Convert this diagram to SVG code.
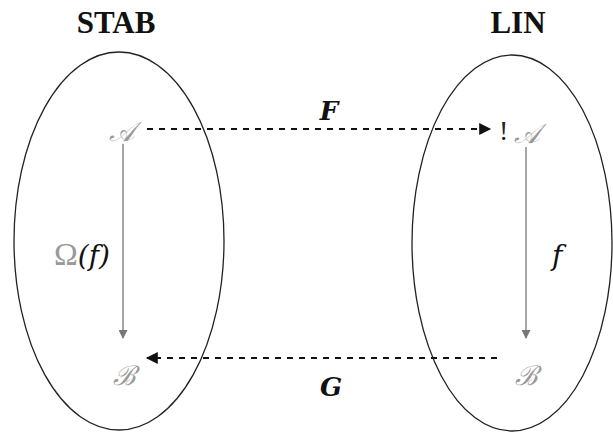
<svg xmlns="http://www.w3.org/2000/svg" width="613" height="432" viewBox="0 0 613 432">
<defs>
<style>
.title{font-family:"Liberation Serif",serif;font-weight:bold;font-size:31px;fill:#111}
.lbl{font-family:"DejaVu Serif",serif;font-weight:bold;font-style:italic;font-size:26px;fill:#111}
.obj{font-family:"DejaVu Serif","Liberation Serif",serif;font-style:italic;font-size:27px;fill:#999}
.math{font-family:"Liberation Serif",serif;font-size:32px}
.it{font-family:"DejaVu Serif",serif;font-style:italic;font-size:28px;fill:#111}
.ell{fill:none;stroke:#222;stroke-width:1.3}
.dash{stroke:#111;stroke-width:2.2;stroke-dasharray:6 6;fill:none}
.vert{stroke:#888;stroke-width:1.5;fill:none}
</style>
<marker id="ah" viewBox="0 0 10 10" refX="9" refY="5" markerWidth="14" markerHeight="12" markerUnits="userSpaceOnUse" orient="auto">
<path d="M0,0 L10,5 L0,10 z" fill="#111"/>
</marker>
<marker id="ahg" viewBox="0 0 10 10" refX="9" refY="5" markerWidth="10" markerHeight="9" markerUnits="userSpaceOnUse" orient="auto">
<path d="M0,0 L10,5 L0,10 z" fill="#777"/>
</marker>
</defs>
<rect width="613" height="432" fill="#fff"/>
<g id="stab">
<ellipse class="ell" cx="119" cy="241" rx="105" ry="189"/>
<text class="title" x="116" y="33" text-anchor="middle">STAB</text>
<text class="obj" x="122" y="141" text-anchor="middle">𝒜</text>
<text class="obj" x="124" y="385" text-anchor="middle">ℬ</text>
</g>
<g id="lin">
<ellipse class="ell" cx="512" cy="243" rx="100" ry="188"/>
<text class="title" x="518" y="33" text-anchor="middle">LIN</text>
<text class="math" x="499" y="140" style="fill:#222;font-size:28px">!</text>
<text class="obj" x="527" y="143" text-anchor="middle">𝒜</text>
<text class="obj" x="526" y="385" text-anchor="middle">ℬ</text>
</g>
<g id="connectors">
<line class="vert" x1="123" y1="144" x2="123" y2="338" marker-end="url(#ahg)"/>
<line class="vert" x1="526" y1="147" x2="526" y2="338" marker-end="url(#ahg)"/>
<line class="dash" x1="147" y1="129" x2="490" y2="129" marker-end="url(#ah)"/>
<line class="dash" x1="497" y1="358" x2="147" y2="358" marker-end="url(#ah)"/>
<text class="lbl" x="329" y="120" text-anchor="middle">F</text>
<text class="lbl" x="331" y="396" text-anchor="middle">G</text>
<text class="math" x="54" y="265" style="fill:#999">Ω<tspan class="it">(f)</tspan></text>
<text class="it" x="552" y="265">f</text>
</g>
</svg>
